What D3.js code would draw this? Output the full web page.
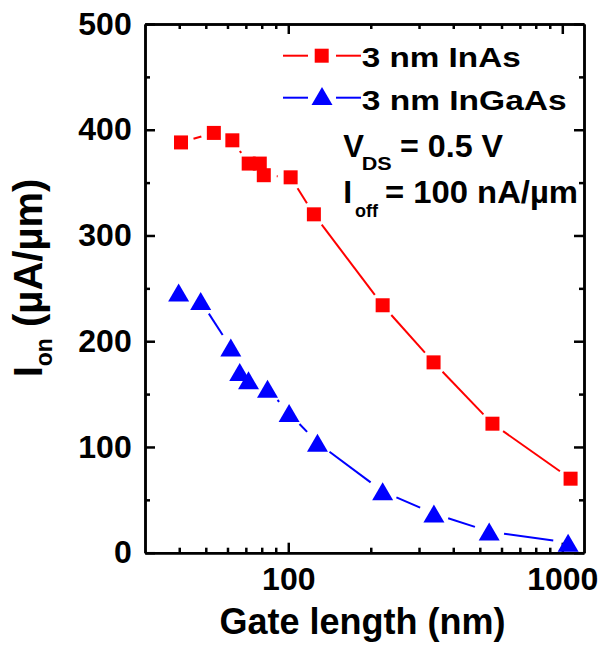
<html>
<head>
<title>Ion vs gate length</title>
<script src="https://cdn.jsdelivr.net/npm/d3@7"></script>
<style>
body { margin: 0; background: #fff; }
text { font-family: "Liberation Sans", Arial, sans-serif; font-weight: bold; fill: #000; }
</style>
</head>
<body>
<svg id="chart"></svg>
<script>

// gate length (nm) and on-current (uA/um)
var inasX = [40.6, 53.5, 62.5, 71.7, 78.7, 81.4, 102, 124, 221, 339, 556, 1072];
var inasY = [388, 397, 390, 368, 368, 357, 355, 320, 234, 180, 122, 70];
var ingaasX = [39.8, 47.9, 61.7, 66.5, 71.6, 84, 100.7, 127.8, 221, 340, 541, 1050];
var ingaasY = [246, 238, 194, 171, 163, 155, 132, 104, 58, 37, 20, 9.5];

var seriesNames = ["3 nm InAs", "3 nm InGaAs"];
var xMajor = [100, 1000];
var xMinor = [40, 50, 60, 70, 80, 90, 200, 300, 400, 500, 600, 700, 800, 900];
var yMajor = [0, 100, 200, 300, 400, 500];
var yMinor = [50, 150, 250, 350, 450];

var W = 603, H = 646;
var pL = 145, pR = 584, pT = 24, pB = 552.7;

var svg = d3.select("#chart").attr("width", W).attr("height", H);

var x = d3.scaleLog().domain([30, 1200]).range([pL, pR]);
var y = d3.scaleLinear().domain([0, 500]).range([pB, pT]);

function styleAxis(g) {
  g.selectAll("path, line").attr("stroke", "#000").attr("stroke-width", 2.5);
  g.selectAll("text").style("font-size", "32px").attr("fill", "#000")
    .style("font-family", "'Liberation Sans', Arial, sans-serif").style("font-weight", "bold");
}

// bottom
svg.append("g").attr("transform", "translate(0," + pB + ")")
  .call(d3.axisBottom(x).tickValues(xMinor).tickFormat("").tickSizeInner(-5).tickSizeOuter(0)).call(styleAxis);
svg.append("g").attr("transform", "translate(0," + pB + ")")
  .call(d3.axisBottom(x).tickValues(xMajor).tickFormat(d3.format("d")).tickSizeInner(-10).tickSizeOuter(0).tickPadding(14.6)).call(styleAxis);
// top
svg.append("g").attr("transform", "translate(0," + pT + ")")
  .call(d3.axisTop(x).tickValues(xMinor).tickFormat("").tickSizeInner(-5).tickSizeOuter(0)).call(styleAxis);
svg.append("g").attr("transform", "translate(0," + pT + ")")
  .call(d3.axisTop(x).tickValues(xMajor).tickFormat("").tickSizeInner(-10).tickSizeOuter(0)).call(styleAxis);
// left
svg.append("g").attr("transform", "translate(" + pL + ",0)")
  .call(d3.axisLeft(y).tickValues(yMinor).tickFormat("").tickSizeInner(-5).tickSizeOuter(0)).call(styleAxis);
svg.append("g").attr("transform", "translate(" + pL + ",0)")
  .call(d3.axisLeft(y).tickValues(yMajor).tickFormat(d3.format("d")).tickSizeInner(-10).tickSizeOuter(0).tickPadding(13.3)).call(styleAxis);
// right
svg.append("g").attr("transform", "translate(" + pR + ",0)")
  .call(d3.axisRight(y).tickValues(yMinor).tickFormat("").tickSizeInner(-5).tickSizeOuter(0)).call(styleAxis);
svg.append("g").attr("transform", "translate(" + pR + ",0)")
  .call(d3.axisRight(y).tickValues(yMajor).tickFormat("").tickSizeInner(-10).tickSizeOuter(0)).call(styleAxis);

// connecting lines with a gap around each symbol
function gapLines(xs, ys, color, gap) {
  var pts = xs.map(function(d, i) { return [x(d), y(ys[i])]; });
  for (var i = 0; i < pts.length - 1; i++) {
    var a = pts[i], b = pts[i + 1];
    var dx = b[0] - a[0], dy = b[1] - a[1];
    var len = Math.sqrt(dx * dx + dy * dy);
    if (len <= 2 * gap) continue;
    var ux = dx / len, uy = dy / len;
    svg.append("line")
      .attr("x1", a[0] + ux * gap).attr("y1", a[1] + uy * gap)
      .attr("x2", b[0] - ux * gap).attr("y2", b[1] - uy * gap)
      .attr("stroke", color).attr("stroke-width", 2);
  }
}
gapLines(inasX, inasY, "#ff0000", 13);
gapLines(ingaasX, ingaasY, "#0000ff", 15);

var sq = 14;
function tri(cx, cy) {
  var w = 21, h = 18;
  return "M" + cx + "," + (cy - h / 2) + "L" + (cx + w / 2) + "," + (cy + h / 2) + "L" + (cx - w / 2) + "," + (cy + h / 2) + "Z";
}

svg.selectAll("rect.inas")
  .data(inasX)
  .enter().append("rect")
    .attr("class", "inas")
    .attr("x", function(d) { return x(d) - sq / 2; })
    .attr("y", function(d, i) { return y(inasY[i]) - sq / 2; })
    .attr("width", sq)
    .attr("height", sq)
    .attr("fill", "#ff0000");

svg.selectAll("path.ingaas")
  .data(ingaasX)
  .enter().append("path")
    .attr("class", "ingaas")
    .attr("d", function(d, i) { return tri(x(d), y(ingaasY[i])); })
    .attr("fill", "#0000ff");

// legend
var lg = svg.append("g");
lg.append("line").attr("x1", 283).attr("x2", 308).attr("y1", 55.7).attr("y2", 55.7).attr("stroke", "#ff0000").attr("stroke-width", 2);
lg.append("line").attr("x1", 336).attr("x2", 361).attr("y1", 55.7).attr("y2", 55.7).attr("stroke", "#ff0000").attr("stroke-width", 2);
lg.append("rect").attr("x", 321.7 - sq / 2).attr("y", 55.7 - sq / 2).attr("width", sq).attr("height", sq).attr("fill", "#ff0000");
lg.append("text").attr("x", 361.7).attr("y", 67.3).style("font-size", "28px")
  .attr("textLength", 159).attr("lengthAdjust", "spacingAndGlyphs").text(seriesNames[0]);

lg.append("line").attr("x1", 283).attr("x2", 308).attr("y1", 97.7).attr("y2", 97.7).attr("stroke", "#0000ff").attr("stroke-width", 2);
lg.append("line").attr("x1", 336).attr("x2", 361).attr("y1", 97.7).attr("y2", 97.7).attr("stroke", "#0000ff").attr("stroke-width", 2);
lg.append("path").attr("d", tri(322, 96)).attr("fill", "#0000ff");
lg.append("text").attr("x", 361.7).attr("y", 110).style("font-size", "28px")
  .attr("textLength", 205).attr("lengthAdjust", "spacingAndGlyphs").text(seriesNames[1]);

// conditions
svg.append("text").attr("x", 343.3).attr("y", 156.7).style("font-size", "31px").text("V");
svg.append("text").attr("x", 361.7).attr("y", 170).style("font-size", "19px")
  .attr("textLength", 30).attr("lengthAdjust", "spacingAndGlyphs").text("DS");
svg.append("text").attr("x", 400).attr("y", 156.7).style("font-size", "32px")
  .attr("textLength", 103).attr("lengthAdjust", "spacingAndGlyphs").text("= 0.5 V");

svg.append("text").attr("x", 343.3).attr("y", 203.3).style("font-size", "32px").text("I");
svg.append("text").attr("x", 355).attr("y", 216.7).style("font-size", "19px")
  .attr("textLength", 23).attr("lengthAdjust", "spacingAndGlyphs").text("off");
svg.append("text").attr("x", 385).attr("y", 203.3).style("font-size", "32px")
  .attr("textLength", 193).attr("lengthAdjust", "spacingAndGlyphs").text("= 100 nA/\u00b5m");

// axis titles
svg.append("text").attr("x", 362.5).attr("y", 634.3).attr("text-anchor", "middle")
  .style("font-size", "36px").text("Gate length (nm)");

var yt = svg.append("text").attr("transform", "translate(41.7,278) rotate(-90)")
  .attr("text-anchor", "middle").style("font-size", "40px");
yt.append("tspan").text("I");
yt.append("tspan").attr("dy", 10).style("font-size", "23px").text("on");
yt.append("tspan").attr("dy", -10).text(" (\u00b5A/\u00b5m)");

</script>
</body>
</html>
